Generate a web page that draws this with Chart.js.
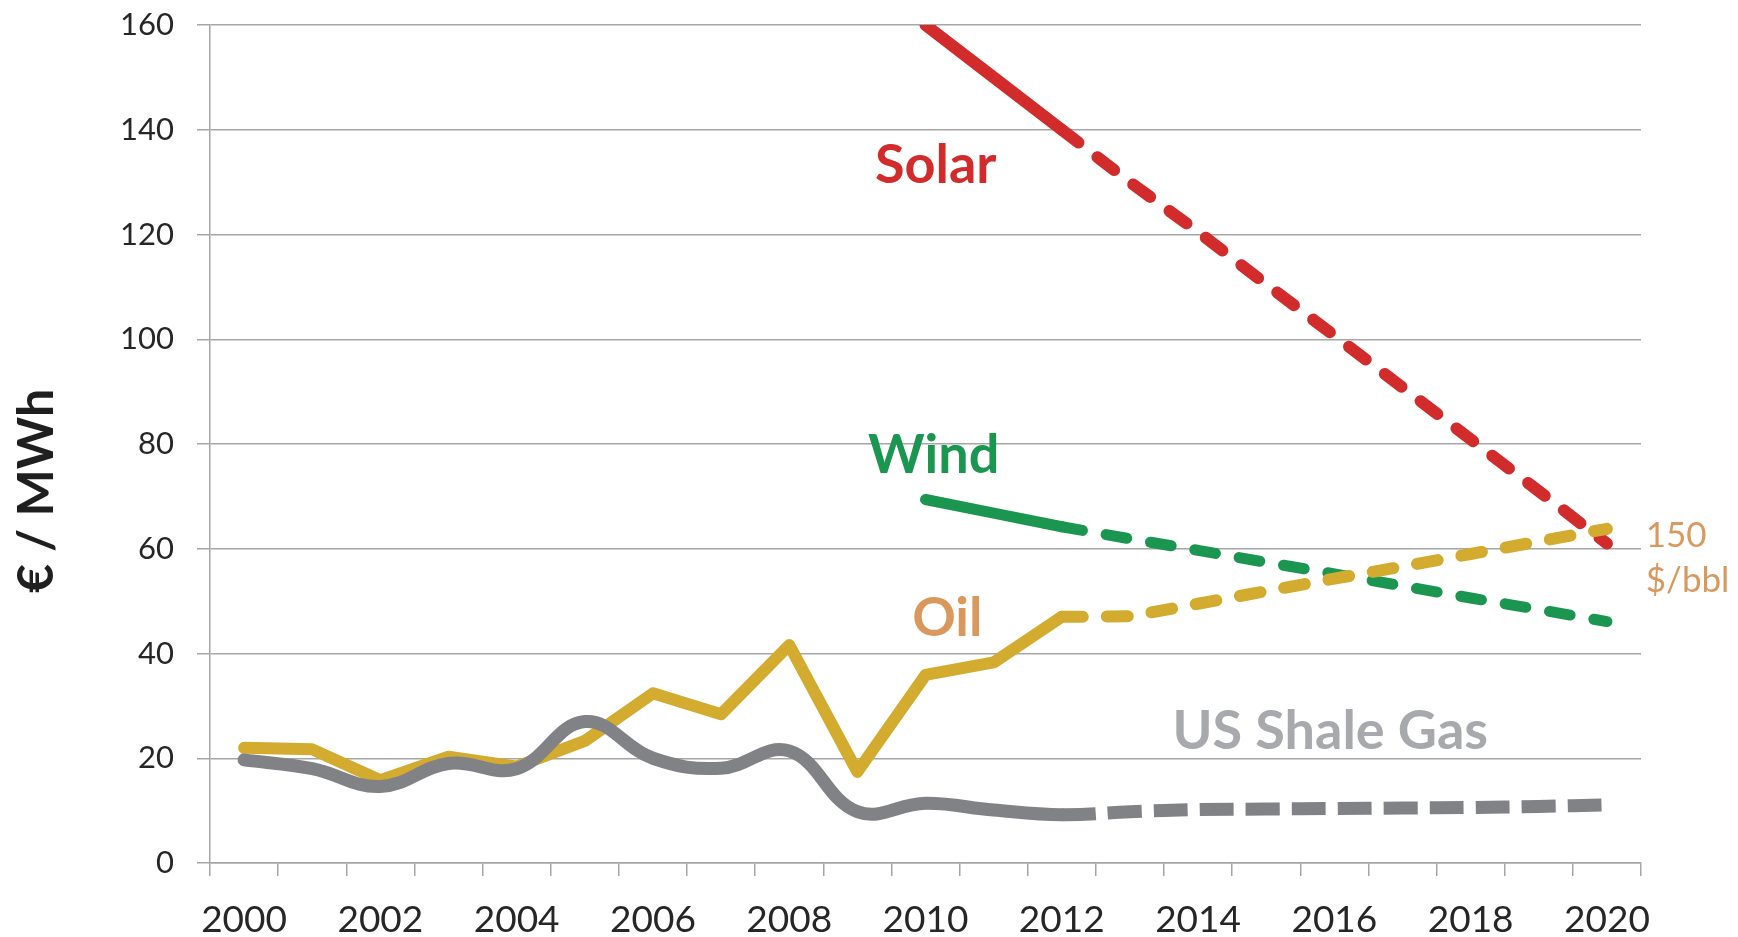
<!DOCTYPE html>
<html>
<head>
<meta charset="utf-8">
<script src="https://cdn.jsdelivr.net/npm/chart.js@4.4.0/dist/chart.umd.min.js"></script>
<style>
  html, body { margin: 0; padding: 0; background: #fff; }
  #wrap { width: 1738px; height: 937px; position: relative; }
</style>
</head>
<body>
<div id="wrap"><canvas id="chart"></canvas></div>
<script>
// categories
const years = ["2000", "2001", "2002", "2003", "2004", "2005", "2006", "2007", "2008", "2009", "2010",
               "2011", "2012", "2013", "2014", "2015", "2016", "2017", "2018", "2019", "2020"];
const yTicks = [0, 20, 40, 60, 80, 100, 120, 140, 160];

// series values, EUR / MWh (from 2012 on they are projections, drawn dashed)
const oil = [22.0, 21.7, 15.8, 20.3, 18.4, 23.3, 32.4, 28.4, 41.6, 17.4, 35.9,
             38.3, 47.0, 47.1, 49.5, 51.9, 54.3, 56.6, 59.0, 61.4, 63.8];
const gas = [19.7, 18.0, 14.6, 19.0, 18.0, 27.0, 20.0, 18.1, 21.4, 9.8, 11.4,
             10.1, 9.2, 9.8, 10.2, 10.3, 10.4, 10.5, 10.6, 10.8, 11.1];
const wind = [null, null, null, null, null, null, null, null, null, null, 69.4,
              66.8, 64.2, 61.9, 59.7, 57.4, 55.2, 52.9, 50.6, 48.4, 46.1];
const solar = [null, null, null, null, null, null, null, null, null, null, 160,
               150, 140, 130, 120.5, 110.5, 100.7, 90.8, 80.9, 71.0, 61.0];
const forecastFrom = 12; // index of 2012

// text labels placed on the chart: [category index, value] of the baseline anchor
const seriesLabels = [
    { lines: ["Solar"], at: [10.15, 129.9], color: "#D22B2B", font: "bold 54px Lato", align: "center" },
    { lines: ["Wind"], at: [10.12, 74.5], color: "#1B9650", font: "bold 54px Lato", align: "center" },
    { lines: ["Oil"], at: [10.32, 43.4], color: "#D9995E", font: "bold 54px Lato", align: "center" },
    { lines: ["US Shale Gas"], at: [15.94, 21.75], color: "#A7A9AC", font: "bold 54px Lato", align: "center" },
    { lines: ["150", "$/bbl"], at: [20.57, 60.4], color: "#D9995E", font: "35px Lato", align: "left" },
];

const gridColor = "#A6A6A6";

const dashed = (dash) => (ctx) => ctx.p0DataIndex >= forecastFrom ? dash : [];

const labelsPlugin = {
    id: "seriesLabels",
    afterDatasetsDraw(chart) {
        const { ctx, scales: { x, y } } = chart;
        ctx.save();
        ctx.textBaseline = "alphabetic";
        seriesLabels.forEach((l) => {
            ctx.font = l.font;
            ctx.fillStyle = l.color;
            ctx.textAlign = l.align;
            const px = x.getPixelForValue(l.at[0]);
            const py = y.getPixelForValue(l.at[1]);
            l.lines.forEach((t, i) => ctx.fillText(t, px, py + i * 45));
        });
        // y axis title
        ctx.translate(53, 491);
        ctx.rotate(-Math.PI / 2);
        ctx.font = "bold 50px Lato";
        ctx.fillStyle = "#1F1F1F";
        ctx.textAlign = "center";
        ctx.fillText("€ / MWh", 0, 0);
        ctx.restore();
    },
};

new Chart(document.getElementById("chart"), {
    type: "line",
    data: {
        labels: years,
        datasets: [
            {
                label: "US Shale Gas",
                data: gas,
                borderColor: "#808285",
                borderWidth: 13,
                tension: 0.4,
                borderCapStyle: "round",
                borderJoinStyle: "round",
                pointRadius: 0,
                segment: {
                    borderDash: dashed([34, 12]),
                    borderCapStyle: (ctx) => (ctx.p0DataIndex >= forecastFrom ? "butt" : "round"),
                },
            },
            {
                label: "Oil",
                data: oil,
                borderColor: "#D3AB2E",
                borderWidth: 12,
                tension: 0,
                borderCapStyle: "round",
                borderJoinStyle: "round",
                pointRadius: 0,
                segment: { borderDash: dashed([21, 24]) },
            },
            {
                label: "Wind",
                data: wind,
                borderColor: "#1B9650",
                borderWidth: 11,
                tension: 0,
                borderCapStyle: "round",
                borderJoinStyle: "round",
                pointRadius: 0,
                segment: { borderDash: dashed([21, 24]) },
            },
            {
                label: "Solar",
                data: solar,
                borderColor: "#D22B2B",
                borderWidth: 12,
                tension: 0,
                borderCapStyle: "round",
                borderJoinStyle: "round",
                pointRadius: 0,
                segment: { borderDash: dashed([21, 24]) },
            },
        ],
    },
    options: {
        responsive: true,
        maintainAspectRatio: false,
        animation: false,
        layout: { padding: { left: 0, right: 97, top: 25, bottom: 0 } },
        plugins: {
            legend: { display: false },
            tooltip: { enabled: false },
        },
        scales: {
            x: {
                offset: true,
                grid: {
                    offset: true,
                    drawOnChartArea: false,
                    drawTicks: true,
                    tickLength: 13,
                    color: gridColor,
                    lineWidth: 1.5,
                },
                border: { display: true, color: gridColor, width: 1.5 },
                ticks: {
                    autoSkip: false,
                    maxRotation: 0,
                    padding: 22,
                    color: "#262626",
                    font: { family: "Lato", size: 37 },
                    callback: (val, i) => (i % 2 === 0 ? years[i] : ""),
                },
                afterFit: (scale) => { scale.height = 74; },
            },
            y: {
                min: 0,
                max: 160,
                afterBuildTicks: (scale) => { scale.ticks = yTicks.map((v) => ({ value: v })); },
                grid: {
                    color: gridColor,
                    lineWidth: 1.5,
                    drawTicks: true,
                    tickLength: 13,
                },
                border: { display: true, color: gridColor, width: 1.5 },
                ticks: {
                    padding: 23,
                    color: "#262626",
                    font: { family: "Lato", size: 31 },
                },
                afterFit: (scale) => {
                    scale.width = 210;
                    scale.paddingTop = 0;
                    scale.paddingBottom = 0;
                },
            },
        },
    },
    plugins: [labelsPlugin],
});
</script>
</body>
</html>
